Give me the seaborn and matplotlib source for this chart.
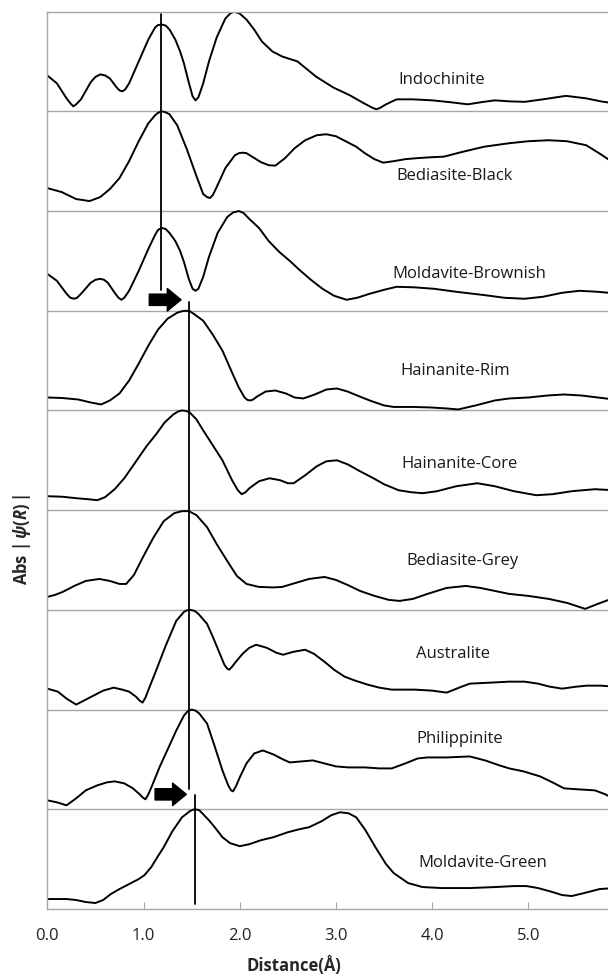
import numpy as np
import pandas as pd
import matplotlib
matplotlib.use("Agg")
import matplotlib.pyplot as plt
import seaborn as sns

sns.set_style("white")
plt.rcParams['font.family'] = ['Open Sans', 'DejaVu Sans']
plt.rcParams['mathtext.fontset'] = 'custom'
plt.rcParams['mathtext.it'] = 'Open Sans:italic:bold'
plt.rcParams['mathtext.rm'] = 'Open Sans:bold'

# ---- data (panel-relative amplitude, 0..1 of each panel height) ----
samples = ["Indochinite", "Bediasite-Black", "Moldavite-Brownish", "Hainanite-Rim",
           "Hainanite-Core", "Bediasite-Grey", "Australite", "Philippinite", "Moldavite-Green"]

indochinite_x = [0.0,0.1,0.2,0.24,0.27,0.30,0.35,0.45,0.50,0.55,0.60,0.65,0.72,0.75,0.78,0.81,0.85,0.95,1.05,1.12,1.15,1.19,1.23,1.27,1.33,1.38,1.42,1.47,1.51,1.54,1.57,1.62,1.68,1.76,1.85,1.90,1.94,2.00,2.07,2.15,2.23,2.34,2.44,2.60,2.79,2.97,3.145,3.28,3.38,3.42,3.46,3.52,3.63,3.8,4.0,4.2,4.37,4.5,4.65,4.80,4.96,5.15,5.39,5.6,5.75,5.89]
indochinite_y = [0.36,0.28,0.13,0.08,0.05,0.07,0.12,0.29,0.345,0.37,0.36,0.33,0.24,0.21,0.20,0.22,0.28,0.50,0.72,0.84,0.865,0.87,0.86,0.82,0.72,0.60,0.48,0.29,0.15,0.11,0.14,0.28,0.50,0.74,0.93,0.98,1.00,0.98,0.92,0.82,0.70,0.60,0.55,0.50,0.35,0.24,0.16,0.086,0.035,0.02,0.035,0.07,0.12,0.12,0.11,0.09,0.07,0.09,0.11,0.10,0.095,0.12,0.155,0.13,0.10,0.08]

bed_black_x = [0.0,0.15,0.3,0.44,0.55,0.65,0.75,0.85,0.95,1.05,1.12,1.15,1.19,1.23,1.27,1.35,1.45,1.55,1.62,1.66,1.69,1.72,1.76,1.85,1.95,1.99,2.03,2.07,2.12,2.22,2.30,2.37,2.47,2.57,2.68,2.80,2.90,3.00,3.10,3.21,3.30,3.40,3.49,3.60,3.72,3.84,4.0,4.12,4.3,4.54,4.8,5.0,5.21,5.4,5.60,5.75,5.89]
bed_black_y = [0.23,0.19,0.12,0.10,0.14,0.22,0.33,0.50,0.70,0.88,0.96,0.985,1.00,0.99,0.97,0.86,0.62,0.35,0.17,0.14,0.13,0.16,0.24,0.43,0.56,0.58,0.585,0.58,0.55,0.49,0.46,0.455,0.53,0.63,0.71,0.76,0.77,0.75,0.70,0.645,0.58,0.52,0.485,0.50,0.52,0.53,0.54,0.545,0.59,0.645,0.68,0.70,0.71,0.70,0.66,0.57,0.48]

mold_brown_x = [0.0,0.1,0.2,0.24,0.28,0.31,0.36,0.45,0.50,0.55,0.59,0.63,0.70,0.74,0.77,0.80,0.85,0.95,1.05,1.12,1.15,1.19,1.23,1.27,1.33,1.38,1.42,1.47,1.51,1.54,1.57,1.62,1.68,1.77,1.87,1.93,1.99,2.04,2.10,2.20,2.30,2.41,2.52,2.62,2.74,2.86,2.98,3.11,3.22,3.35,3.50,3.63,3.81,4.02,4.25,4.54,4.75,4.96,5.15,5.35,5.53,5.72,5.89]
mold_brown_y = [0.37,0.30,0.17,0.13,0.12,0.13,0.18,0.28,0.31,0.32,0.31,0.28,0.18,0.13,0.11,0.13,0.20,0.40,0.62,0.76,0.81,0.83,0.82,0.78,0.70,0.60,0.49,0.32,0.22,0.20,0.22,0.34,0.54,0.78,0.94,0.985,1.00,0.98,0.92,0.83,0.70,0.59,0.50,0.41,0.31,0.22,0.15,0.11,0.13,0.17,0.21,0.24,0.235,0.22,0.19,0.157,0.13,0.12,0.14,0.18,0.20,0.19,0.175]

hai_rim_x = [0.0,0.15,0.32,0.45,0.56,0.65,0.75,0.85,0.95,1.05,1.15,1.25,1.35,1.40,1.44,1.48,1.52,1.62,1.72,1.82,1.92,1.99,2.05,2.08,2.11,2.14,2.18,2.27,2.37,2.48,2.57,2.66,2.78,2.90,3.01,3.12,3.22,3.35,3.50,3.60,3.80,3.98,4.15,4.27,4.45,4.65,4.80,5.0,5.2,5.37,5.55,5.72,5.89]
hai_rim_y = [0.13,0.125,0.11,0.08,0.06,0.10,0.17,0.30,0.47,0.65,0.81,0.92,0.98,0.995,1.00,0.995,0.97,0.90,0.76,0.60,0.38,0.23,0.13,0.105,0.10,0.11,0.14,0.19,0.20,0.17,0.13,0.12,0.16,0.21,0.22,0.19,0.15,0.10,0.05,0.035,0.035,0.03,0.02,0.01,0.05,0.10,0.12,0.13,0.15,0.16,0.15,0.13,0.11]

hai_core_x = [0.0,0.15,0.3,0.42,0.52,0.60,0.70,0.80,0.93,1.03,1.13,1.22,1.31,1.36,1.40,1.44,1.48,1.55,1.62,1.72,1.82,1.92,1.98,2.02,2.06,2.10,2.20,2.31,2.42,2.50,2.56,2.68,2.80,2.90,3.01,3.12,3.25,3.37,3.50,3.65,3.78,3.90,4.05,4.25,4.47,4.65,4.85,5.08,5.25,5.45,5.69,5.89]
hai_core_y = [0.14,0.135,0.12,0.11,0.10,0.13,0.21,0.32,0.50,0.64,0.76,0.88,0.96,0.99,1.00,0.995,0.98,0.91,0.80,0.65,0.50,0.30,0.20,0.16,0.18,0.22,0.29,0.32,0.30,0.27,0.27,0.35,0.44,0.49,0.50,0.46,0.39,0.33,0.26,0.20,0.18,0.17,0.19,0.24,0.27,0.24,0.19,0.15,0.16,0.19,0.21,0.20]

bed_grey_x = [0.0,0.08,0.16,0.28,0.40,0.54,0.65,0.75,0.82,0.90,1.00,1.10,1.21,1.32,1.40,1.47,1.55,1.66,1.76,1.87,1.97,2.07,2.20,2.35,2.44,2.58,2.72,2.88,3.00,3.12,3.25,3.40,3.55,3.66,3.80,3.95,4.15,4.35,4.50,4.65,4.80,5.00,5.21,5.40,5.59,5.72,5.89]
bed_grey_y = [0.13,0.15,0.18,0.24,0.29,0.31,0.29,0.26,0.26,0.35,0.54,0.72,0.89,0.97,0.99,0.99,0.95,0.83,0.66,0.49,0.34,0.26,0.23,0.225,0.23,0.27,0.31,0.33,0.30,0.25,0.19,0.14,0.10,0.09,0.11,0.16,0.22,0.24,0.22,0.19,0.16,0.14,0.11,0.07,0.01,0.06,0.12]

australite_x = [0.0,0.11,0.20,0.30,0.40,0.48,0.58,0.69,0.78,0.85,0.92,0.96,0.99,1.02,1.06,1.13,1.23,1.34,1.42,1.45,1.49,1.53,1.57,1.66,1.72,1.78,1.84,1.87,1.89,1.92,1.96,2.03,2.10,2.17,2.28,2.38,2.45,2.56,2.68,2.77,2.88,2.98,3.09,3.20,3.33,3.45,3.58,3.70,3.82,4.00,4.15,4.28,4.39,4.60,4.80,4.96,5.10,5.22,5.35,5.50,5.61,5.75,5.89]
australite_y = [0.21,0.18,0.11,0.05,0.10,0.14,0.19,0.22,0.20,0.18,0.13,0.09,0.07,0.12,0.22,0.39,0.64,0.89,0.98,0.995,1.00,0.99,0.96,0.86,0.73,0.59,0.45,0.41,0.40,0.43,0.48,0.56,0.62,0.65,0.62,0.57,0.55,0.58,0.60,0.56,0.48,0.40,0.33,0.29,0.25,0.22,0.20,0.20,0.20,0.19,0.17,0.22,0.26,0.27,0.28,0.28,0.26,0.23,0.21,0.23,0.24,0.24,0.23]

philippinite_x = [0.0,0.10,0.20,0.30,0.40,0.52,0.62,0.70,0.80,0.89,0.96,0.99,1.02,1.05,1.09,1.17,1.26,1.34,1.42,1.46,1.50,1.54,1.58,1.66,1.74,1.82,1.88,1.91,1.93,1.96,2.00,2.07,2.15,2.24,2.35,2.45,2.52,2.64,2.76,2.88,3.00,3.13,3.30,3.45,3.58,3.72,3.85,3.95,4.15,4.39,4.55,4.70,4.80,4.95,5.12,5.25,5.37,5.52,5.69,5.80,5.89]
philippinite_y = [0.09,0.07,0.04,0.11,0.19,0.24,0.27,0.28,0.26,0.21,0.15,0.12,0.10,0.15,0.24,0.43,0.62,0.79,0.94,0.985,1.00,0.99,0.96,0.86,0.63,0.39,0.24,0.19,0.18,0.23,0.32,0.46,0.56,0.59,0.55,0.50,0.47,0.48,0.49,0.46,0.43,0.42,0.42,0.41,0.41,0.46,0.51,0.52,0.52,0.53,0.49,0.44,0.41,0.38,0.33,0.27,0.21,0.20,0.19,0.15,0.10]

mold_green_x = [0.0,0.10,0.20,0.30,0.40,0.50,0.58,0.66,0.75,0.85,0.95,1.01,1.08,1.15,1.21,1.30,1.40,1.48,1.51,1.54,1.58,1.62,1.68,1.74,1.82,1.90,2.00,2.10,2.22,2.35,2.50,2.62,2.72,2.85,2.95,3.04,3.13,3.21,3.30,3.41,3.52,3.60,3.66,3.75,3.90,4.10,4.39,4.65,4.85,4.98,5.10,5.25,5.35,5.45,5.58,5.74,5.89]
mold_green_y = [0.10,0.10,0.10,0.09,0.07,0.06,0.09,0.15,0.20,0.25,0.30,0.34,0.42,0.53,0.62,0.78,0.92,0.98,0.995,1.00,0.99,0.95,0.89,0.82,0.72,0.66,0.63,0.65,0.69,0.72,0.77,0.80,0.82,0.88,0.94,0.97,0.96,0.92,0.80,0.62,0.45,0.36,0.32,0.26,0.22,0.21,0.21,0.22,0.23,0.23,0.21,0.17,0.14,0.13,0.16,0.20,0.21]

curves_x = [indochinite_x, bed_black_x, mold_brown_x, hai_rim_x, hai_core_x,
            bed_grey_x, australite_x, philippinite_x, mold_green_x]
curves_y = [indochinite_y, bed_black_y, mold_brown_y, hai_rim_y, hai_core_y,
            bed_grey_y, australite_y, philippinite_y, mold_green_y]

label_pos_x = [4.10, 4.23, 4.39, 4.24, 4.28, 4.31, 4.22, 4.29, 4.53]
label_pos_v = [0.31, 0.353, 0.367, 0.397, 0.463, 0.493, 0.553, 0.70, 0.457]

xticks = [0.0, 1.0, 2.0, 3.0, 4.0, 5.0]
xtick_labels = ["0.0", "1.0", "2.0", "3.0", "4.0", "5.0"]

n = len(samples)
rows = []
for i, (name, xs, ys) in enumerate(zip(samples, curves_x, curves_y)):
    assert len(xs) == len(ys), name
    off = n - 1 - i
    for xv, yv in zip(xs, ys):
        rows.append({"sample": name, "x": xv, "y": yv + off})
df = pd.DataFrame(rows)

fig = plt.figure(figsize=(6.08, 9.77), dpi=100)
ax = fig.add_axes([47.3/608, 68/977, 1 - 47.3/608 + 0.01, 897.4/977])

sns.lineplot(data=df, x="x", y="y", units="sample", estimator=None, sort=False,
             color="black", linewidth=1.4, ax=ax, legend=False)
for ln in ax.lines:
    ln.set_solid_joinstyle("round")

# panel separators
for k in range(1, n):
    ax.axhline(k, color="#a6a6a6", linewidth=1.0, zorder=1)

# labels
for i, name in enumerate(samples):
    off = n - 1 - i
    ax.text(label_pos_x[i], off + label_pos_v[i], name, ha="center", va="center",
            fontsize=12, color="#1a1a1a")

# reference lines
ax.plot([1.185, 1.185], [6.21, 8.975], color="black", linewidth=1.3)
ax.plot([1.47, 1.47], [1.20, 6.09], color="black", linewidth=1.3)
ax.plot([1.54, 1.54], [0.05, 1.14], color="black", linewidth=1.3)

# arrows
arrow_style = "simple,head_width=0.9,head_length=0.55,tail_width=0.45"
ax.annotate("", xy=(1.39, 6.11), xytext=(1.06, 6.11),
            arrowprops=dict(arrowstyle=arrow_style, color="black", mutation_scale=18,
                            shrinkA=0, shrinkB=0))
ax.annotate("", xy=(1.445, 1.15), xytext=(1.12, 1.15),
            arrowprops=dict(arrowstyle=arrow_style, color="black", mutation_scale=18,
                            shrinkA=0, shrinkB=0))

ax.set_xlim(0, 5.89)
ax.set_ylim(0, n)
ax.set_xticks(xticks)
ax.set_xticklabels(xtick_labels, fontsize=12, color="#222222")
ax.set_yticks([])
ax.tick_params(axis="x", direction="in", length=5, color="#a6a6a6", pad=14, bottom=True)
for s in ["left", "bottom", "top"]:
    ax.spines[s].set_color("#a6a6a6")
    ax.spines[s].set_linewidth(1.0)
ax.spines["right"].set_visible(False)

ax.set_xlabel("Distance(Å)", fontsize=12, fontweight="bold")
ax.xaxis.set_label_coords((291.6 - 47.3) / (608 - 47.3), -(956 - 909) / 897.4)
ax.set_ylabel(r"Abs |$\,\psi(R)\,$|", fontsize=12, fontweight="bold")
ax.yaxis.set_label_coords(-(47.3 - 33) / 560.7, (909 - 539) / 897.4)

fig.savefig("out.png", dpi=100)
